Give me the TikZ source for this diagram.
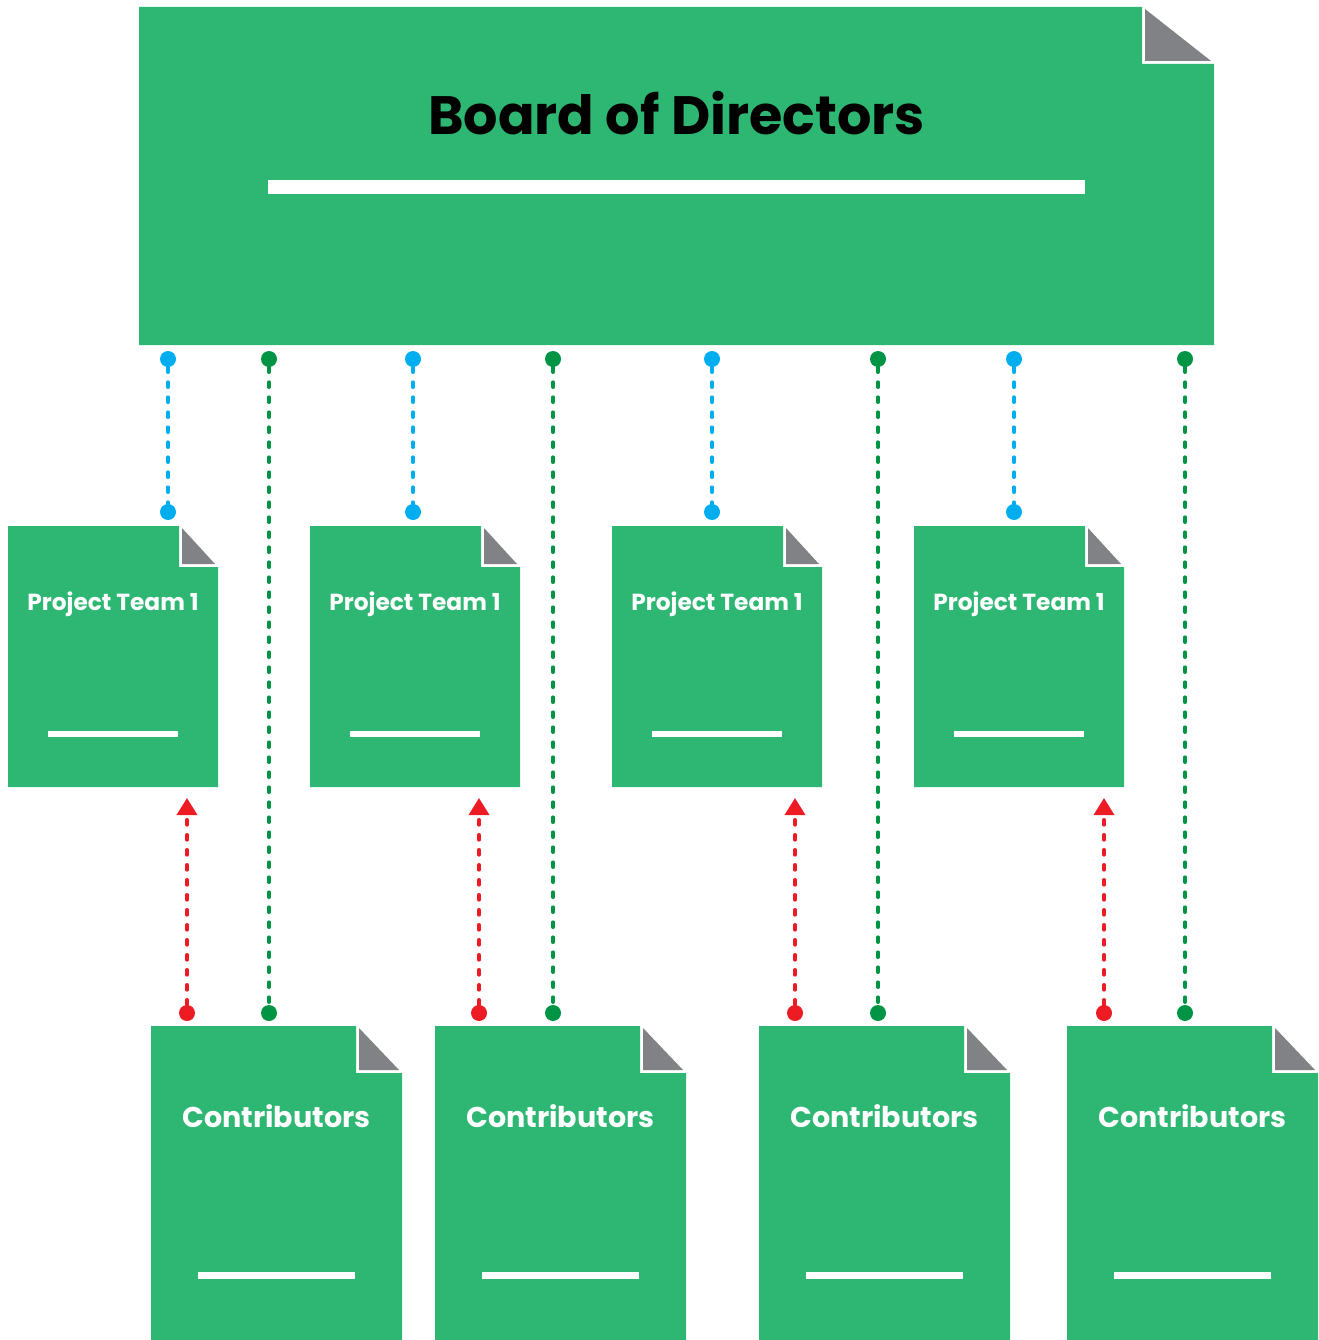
\documentclass[tikz,border=0pt]{standalone}
\usepackage{fontspec}
\setmainfont{Poppins}
\usetikzlibrary{arrows.meta}
\definecolor{docgreen}{RGB}{46,183,115}
\definecolor{foldgray}{RGB}{128,130,133}
\definecolor{lnblue}{RGB}{0,174,239}
\definecolor{lngreen}{RGB}{0,148,68}
\definecolor{lnred}{RGB}{237,28,36}
\newcommand\docshape[6]{%
  \fill[docgreen] (#1,#2) -- ({#3-#5},#2) -- ({#3-#5},{#2+#6}) -- (#3,{#2+#6}) -- (#3,#4) -- (#1,#4) -- cycle;
  \fill[foldgray] ({#3-#5+3},{#2+2}) -- ({#3-#5+3},{#2+#6-3}) -- ({#3-3},{#2+#6-3}) -- cycle;
}
\tikzset{
  area/.style={inner sep=0pt, anchor=north west},
  dotbase/.style={circle, inner sep=0pt, minimum size=16pt},
  dotblue/.style={dotbase, fill=lnblue},
  dotgreen/.style={dotbase, fill=lngreen},
  dotred/.style={dotbase, fill=lnred},
  linkbase/.style={line width=3.6pt, line cap=round, dash pattern=on 5pt off 10pt},
  bluelink/.style={linkbase, lnblue},
  greenlink/.style={linkbase, lngreen},
  redlink/.style={linkbase, lnred, -{Triangle[length=17pt,width=20pt]}},
  titlefont/.style={font=\fontsize{54}{60}\selectfont\bfseries, text=black},
  teamfont/.style={font=\fontsize{23.3}{28}\selectfont\bfseries, text=white},
  contribfont/.style={font=\fontsize{28.6}{32}\selectfont\bfseries, text=white},
}
\begin{document}
\begin{tikzpicture}[x=1pt,y=-1pt]
\useasboundingbox (0,0) rectangle (1318,1340);
% Board
\docshape{139}{7}{1214}{345}{72}{57}
\node[area, minimum width=1075pt, minimum height=338pt] (board) at (139,7) {};
\node[titlefont, anchor=base] (boardtitle) at (676.5,135) {Board of Directors};
\fill[white] (268,180) rectangle (1085,194);
% Project teams
\foreach \i/\x in {1/8,2/310,3/612,4/914}{
  \docshape{\x}{526}{\x+210}{787}{39}{41}
  \node[area, minimum width=210pt, minimum height=261pt] (team\i) at (\x,526) {};
  \node[teamfont, anchor=base] (teamlabel\i) at (\x+105,610) {Project Team 1};
  \fill[white] (\x+40,731) rectangle (\x+170,737);
}
% Contributors
\foreach \i/\x in {1/151,2/435,3/759,4/1067}{
  \docshape{\x}{1026}{\x+251}{1345}{46}{47}
  \node[area, minimum width=251pt, minimum height=314pt] (contrib\i) at (\x,1026) {};
  \node[contribfont, anchor=base] (contriblabel\i) at (\x+125.5,1127) {Contributors};
  \fill[white] (\x+47,1272) rectangle (\x+204,1279);
}
% Blue links board -> teams
\foreach \i/\x in {1/168,2/413,3/712,4/1014}{
  \node[dotblue] (bt\i) at (\x,359) {};
  \node[dotblue] (bb\i) at (\x,512) {};
  \draw[bluelink] (bt\i) -- (bb\i);
}
% Green links board -> contributors
\foreach \i/\x in {1/269,2/553,3/878,4/1185}{
  \node[dotgreen] (gt\i) at (\x,359) {};
  \node[dotgreen] (gb\i) at (\x,1013) {};
  \draw[greenlink] (gt\i) -- (gb\i);
}
% Red links contributors -> teams
\foreach \i/\x in {1/187,2/479,3/795,4/1104}{
  \node[dotred] (rd\i) at (\x,1013) {};
  \coordinate (rt\i) at (\x,798);
  \draw[redlink] (rd\i) -- (rt\i);
}
\end{tikzpicture}
\end{document}
